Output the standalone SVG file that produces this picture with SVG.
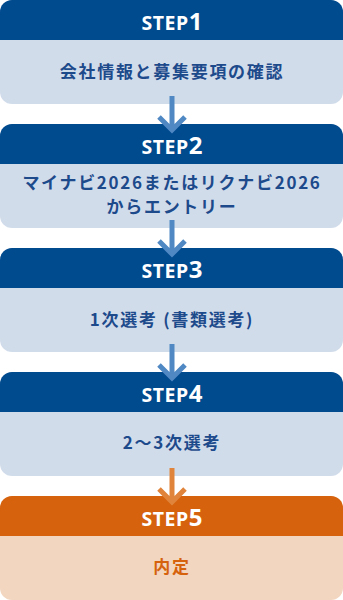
<svg xmlns="http://www.w3.org/2000/svg" width="343" height="600" viewBox="0 0 343 600">
<defs>
<style>
.hd{fill:#004a8e}
.bd{fill:#d1dceb}
.hdo{fill:#d6620d}
.bdo{fill:#f2d6c0}
.st{font-family:"Noto Sans","Noto Sans CJK JP",sans-serif;font-weight:700;fill:#ffffff;text-anchor:middle}
.st .s{font-size:19.5px;letter-spacing:0.6px}
.st .n{font-size:24px}
.tx{font-family:"Noto Sans CJK JP","Noto Sans",sans-serif;font-weight:700;font-size:17px;letter-spacing:1.7px;fill:#1d4a8b;text-anchor:middle}
.txo{fill:#d6620d}
.ar{fill:none;stroke:#4f88c3;stroke-width:5}
.aro{stroke:#e0843b}
</style>
<clipPath id="c1"><rect x="0" y="0" width="343" height="104" rx="12"/></clipPath>
<clipPath id="c2"><rect x="0" y="124" width="343" height="104" rx="12"/></clipPath>
<clipPath id="c3"><rect x="0" y="248" width="343" height="104" rx="12"/></clipPath>
<clipPath id="c4"><rect x="0" y="372" width="343" height="104" rx="12"/></clipPath>
<clipPath id="c5"><rect x="0" y="496" width="343" height="104" rx="12"/></clipPath>
</defs>
<g id="step1">
<g clip-path="url(#c1)"><rect class="bd" x="0" y="0" width="343" height="104"/><rect class="hd" x="0" y="0" width="343" height="40"/></g>
<text class="st" x="172" y="29.5"><tspan class="s">STEP</tspan><tspan class="n">1</tspan></text>
<text class="tx" x="172" y="78">会社情報と募集要項の確認</text>
</g>
<g id="step2">
<g clip-path="url(#c2)"><rect class="bd" x="0" y="124" width="343" height="104"/><rect class="hd" x="0" y="124" width="343" height="40"/></g>
<text class="st" x="172" y="153.5"><tspan class="s">STEP</tspan><tspan class="n">2</tspan></text>
<text class="tx" x="172" y="189">マイナビ2026またはリクナビ2026</text>
<text class="tx" x="172" y="213">からエントリー</text>
</g>
<g id="step3">
<g clip-path="url(#c3)"><rect class="bd" x="0" y="248" width="343" height="104"/><rect class="hd" x="0" y="248" width="343" height="40"/></g>
<text class="st" x="172" y="277.5"><tspan class="s">STEP</tspan><tspan class="n">3</tspan></text>
<text class="tx" x="172" y="326">1次選考 (書類選考)</text>
</g>
<g id="step4">
<g clip-path="url(#c4)"><rect class="bd" x="0" y="372" width="343" height="104"/><rect class="hd" x="0" y="372" width="343" height="40"/></g>
<text class="st" x="172" y="401.5"><tspan class="s">STEP</tspan><tspan class="n">4</tspan></text>
<text class="tx" x="172" y="449">2～3次選考</text>
</g>
<g id="step5">
<g clip-path="url(#c5)"><rect class="bdo" x="0" y="496" width="343" height="104"/><rect class="hdo" x="0" y="496" width="343" height="40"/></g>
<text class="st" x="172" y="525.5"><tspan class="s">STEP</tspan><tspan class="n">5</tspan></text>
<text class="tx txo" x="172" y="573">内定</text>
</g>
<g id="connectors">
<path class="ar" d="M172 96V128M159 117L172 130L185 117"/>
<path class="ar" d="M172 220V252M159 241L172 254L185 241"/>
<path class="ar" d="M172 344V376M159 365L172 378L185 365"/>
<path class="ar aro" d="M172 468V500M159 489L172 502L185 489"/>
</g>
</svg>
